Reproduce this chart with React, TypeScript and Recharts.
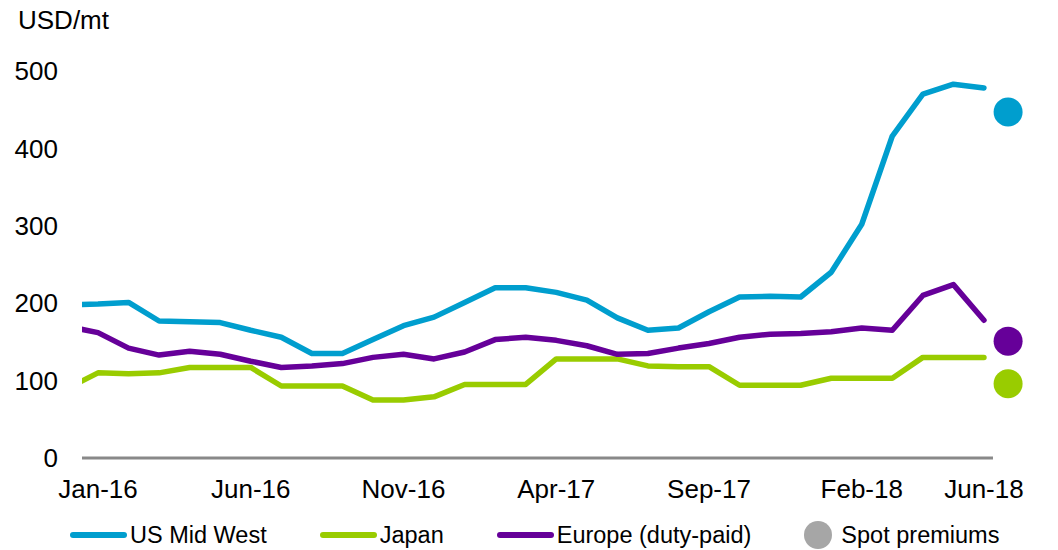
import React from 'react';
import { ComposedChart, Line, Scatter, XAxis, YAxis, ReferenceLine } from 'recharts';

// monthly premiums, USD/mt (Dec-15 is only partly visible at the left edge)
const months = [
  'Dec-15',
  'Jan-16', 'Feb-16', 'Mar-16', 'Apr-16', 'May-16', 'Jun-16', 'Jul-16', 'Aug-16', 'Sep-16', 'Oct-16', 'Nov-16', 'Dec-16',
  'Jan-17', 'Feb-17', 'Mar-17', 'Apr-17', 'May-17', 'Jun-17', 'Jul-17', 'Aug-17', 'Sep-17', 'Oct-17', 'Nov-17', 'Dec-17',
  'Jan-18', 'Feb-18', 'Mar-18', 'Apr-18', 'May-18', 'Jun-18',
];

const usMidWest = [
  198,
  199, 201, 177, 176, 175, 165, 156, 135, 135, 153, 171, 182,
  201, 220, 220, 214, 204, 181, 165, 168, 189, 208, 209, 208,
  240, 302, 416, 470, 483, 478,
];

const japan = [
  90,
  110, 109, 110, 117, 117, 117, 93, 93, 93, 75, 75, 79,
  95, 95, 95, 128, 128, 128, 119, 118, 118, 94, 94, 94,
  103, 103, 103, 130, 130, 130,
];

const europe = [
  170,
  162, 142, 133, 138, 134, 125, 117, 119, 122, 130, 134, 128,
  137, 153, 156, 152, 145, 134, 135, 142, 148, 156, 160, 161,
  163, 168, 165, 210, 224, 178,
];

// spot premiums shown as dots right of the last month
const spotUsMidWest = 447;
const spotJapan = 96;
const spotEurope = 151;

const tickMonths = ['Jan-16', 'Jun-16', 'Nov-16', 'Apr-17', 'Sep-17', 'Feb-18', 'Jun-18'];
const yTicks = [0, 100, 200, 300, 400, 500];

const BLUE = '#009ECE';
const GREEN = '#99CC00';
const PURPLE = '#660099';
const GREY = '#A6A6A6';
const FONT = '"Liberation Sans", Arial, sans-serif';

// month index: Jan-16 = 0
const X_MIN = -0.524;
const X_AXIS_END = 29.295;
const X_MAX = 30.507;
const SPOT_X = 29.79;

const data = months.map((m, i) => ({
  idx: i - 1,
  month: m,
  us: usMidWest[i],
  jp: japan[i],
  eu: europe[i],
}));

const xTicks = tickMonths.map((m) => months.indexOf(m) - 1);

const spotDot = (color: string) => (props: any) => (
  <circle cx={props.cx} cy={props.cy} r={14.5} fill={color} />
);

const legendItems = [
  { name: 'US Mid West', color: BLUE, kind: 'line' },
  { name: 'Japan', color: GREEN, kind: 'line' },
  { name: 'Europe (duty-paid)', color: PURPLE, kind: 'line' },
  { name: 'Spot premiums', color: GREY, kind: 'dot' },
];

export default function App() {
  const tickStyle = { fill: '#000', fontSize: 26, fontFamily: FONT };
  return (
    <div style={{ position: 'absolute', left: 0, top: 0, width: 1058, height: 550, background: '#fff', fontFamily: FONT }}>
      <div style={{ position: 'absolute', left: 18, top: 7, fontSize: 26, lineHeight: '26px', color: '#000' }}>
        USD/mt
      </div>
      <ComposedChart
        width={1058}
        height={550}
        data={data}
        margin={{ top: 71, right: 28, bottom: 52, left: 0 }}
      >
        <XAxis
          type="number"
          dataKey="idx"
          domain={[X_MIN, X_MAX]}
          allowDataOverflow
          ticks={xTicks}
          interval={0}
          tickFormatter={(v: number) => months[v + 1]}
          axisLine={false}
          tickLine={false}
          tickSize={0}
          tickMargin={22}
          height={40}
          tick={tickStyle}
        />
        <YAxis
          domain={[0, 500]}
          ticks={yTicks}
          axisLine={false}
          tickLine={false}
          tickSize={0}
          tickMargin={24}
          width={82}
          tick={tickStyle}
        />
        <ReferenceLine
          segment={[{ x: X_MIN, y: 0 }, { x: X_AXIS_END, y: 0 }]}
          stroke="#898989"
          strokeWidth={3}
          ifOverflow="visible"
        />
        <Line dataKey="us" stroke={BLUE} strokeWidth={5.5} dot={false} activeDot={false} strokeLinecap="round" strokeLinejoin="round" isAnimationActive={false} />
        <Line dataKey="jp" stroke={GREEN} strokeWidth={5.5} dot={false} activeDot={false} strokeLinecap="round" strokeLinejoin="round" isAnimationActive={false} />
        <Line dataKey="eu" stroke={PURPLE} strokeWidth={5.5} dot={false} activeDot={false} strokeLinecap="round" strokeLinejoin="round" isAnimationActive={false} />
        <Scatter data={[{ idx: SPOT_X, spot: spotUsMidWest }]} dataKey="spot" shape={spotDot(BLUE)} isAnimationActive={false} />
        <Scatter data={[{ idx: SPOT_X, spot: spotEurope }]} dataKey="spot" shape={spotDot(PURPLE)} isAnimationActive={false} />
        <Scatter data={[{ idx: SPOT_X, spot: spotJapan }]} dataKey="spot" shape={spotDot(GREEN)} isAnimationActive={false} />
      </ComposedChart>
      <div
        style={{
          position: 'absolute',
          left: 70,
          top: 523,
          height: 24,
          display: 'flex',
          alignItems: 'center',
          gap: 53,
          fontSize: 23.5,
          lineHeight: '24px',
          color: '#000',
          whiteSpace: 'nowrap',
        }}
      >
        {legendItems.map((item) => (
          <div key={item.name} style={{ display: 'flex', alignItems: 'center' }}>
            {item.kind === 'line' ? (
              <span style={{ display: 'inline-block', width: 57, height: 5.5, borderRadius: 3, background: item.color, marginRight: 3 }} />
            ) : (
              <span style={{ display: 'inline-block', width: 28, height: 28, borderRadius: 14, background: item.color, marginRight: 9 }} />
            )}
            <span>{item.name}</span>
          </div>
        ))}
      </div>
    </div>
  );
}
